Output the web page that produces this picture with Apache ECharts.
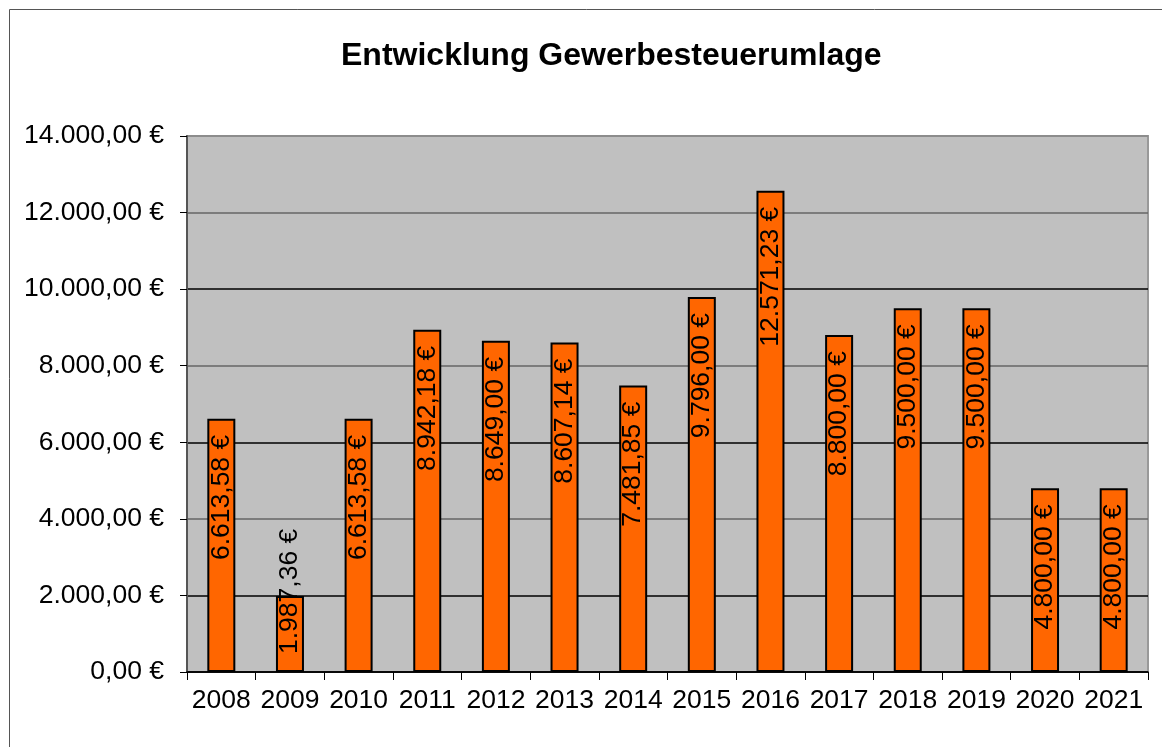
<!DOCTYPE html>
<html>

<head>
    <meta charset="utf-8">
    <title>Entwicklung Gewerbesteuerumlage</title>
    <style>
        html, body { margin: 0; padding: 0; background: #fff; }
        #chart-container { width: 1162px; height: 747px; }
    </style>
    <script src="https://cdn.jsdelivr.net/npm/echarts@6/dist/echarts.min.js"></script>
</head>

<body>
    <div id="chart-container"></div>
    <script>
        // Jahre und Beträge
        const years = ['2008', '2009', '2010', '2011', '2012', '2013', '2014',
            '2015', '2016', '2017', '2018', '2019', '2020', '2021'];
        const umlage = [6613.58, 1987.36, 6613.58, 8942.18, 8649.00, 8607.14, 7481.85,
            9796.00, 12571.23, 8800.00, 9500.00, 9500.00, 4800.00, 4800.00];

        // deutsches Zahlenformat: 12.571,23 €
        function euro(v) {
            let parts = v.toFixed(2).split('.');
            let ganz = parts[0].replace(/\B(?=(\d{3})+(?!\d))/g, '.');
            return ganz + ',' + parts[1] + ' €';
        }

        const font = 'Liberation Sans, Arial, sans-serif';

        // Balken, die zu kurz sind, bekommen das Label unten
        const seriesData = umlage.map(function (v) {
            if (v < 3000) {
                return {
                    value: v,
                    label: { position: 'insideBottom', align: 'left', distance: 18 }
                };
            }
            return v;
        });

        var dom = document.getElementById('chart-container');
        var myChart = echarts.init(dom, null, { renderer: 'canvas' });

        var option = {
            animation: false,
            backgroundColor: '#fff',
            title: {
                text: 'Entwicklung Gewerbesteuerumlage',
                left: 341,
                top: 40,
                padding: 0,
                textStyle: { fontFamily: font, fontSize: 32, fontWeight: 'bold', color: '#000' }
            },
            graphic: [{
                type: 'rect',
                shape: { x: 9.5, y: 9.5, width: 1300, height: 900 },
                style: { fill: null, stroke: '#555', lineWidth: 1 },
                silent: true
            }],
            grid: {
                left: 187,
                top: 136,
                right: 14,
                bottom: 75,
                show: true,
                backgroundColor: '#C0C0C0',
                borderColor: '#999',
                borderWidth: 2
            },
            xAxis: {
                type: 'category',
                data: years,
                axisLine: { lineStyle: { color: '#000', width: 1.5 } },
                axisTick: { show: true, length: 8, lineStyle: { color: '#000' } },
                axisLabel: { interval: 0, fontFamily: font, fontSize: 26.5, color: '#000', margin: 15 }
            },
            yAxis: {
                type: 'value',
                min: 0,
                max: 14000,
                interval: 2000,
                axisLine: { show: true, lineStyle: { color: '#555', width: 2 } },
                axisTick: { show: true, length: 7, lineStyle: { color: '#000' } },
                axisLabel: {
                    fontFamily: font, fontSize: 26.5, color: '#000', margin: 23,
                    formatter: function (v) { return euro(v); }
                },
                splitLine: {
                    lineStyle: {
                        color: ['#000', '#000', '#666', '#000', '#666', '#000', '#666', '#888'],
                        width: 1.5
                    }
                }
            },
            series: [{
                name: 'Gewerbesteuerumlage',
                type: 'bar',
                data: seriesData,
                barWidth: 28,
                itemStyle: { color: '#FF6600', borderColor: '#000', borderWidth: 2 },
                label: {
                    show: true,
                    position: 'insideTop',
                    rotate: 90,
                    align: 'right',
                    verticalAlign: 'middle',
                    distance: 16,
                    fontFamily: font,
                    fontSize: 26.5,
                    color: '#000',
                    formatter: function (p) { return euro(p.value); }
                }
            }]
        };

        myChart.setOption(option);
        window.addEventListener('resize', myChart.resize);
    </script>
</body>

</html>
